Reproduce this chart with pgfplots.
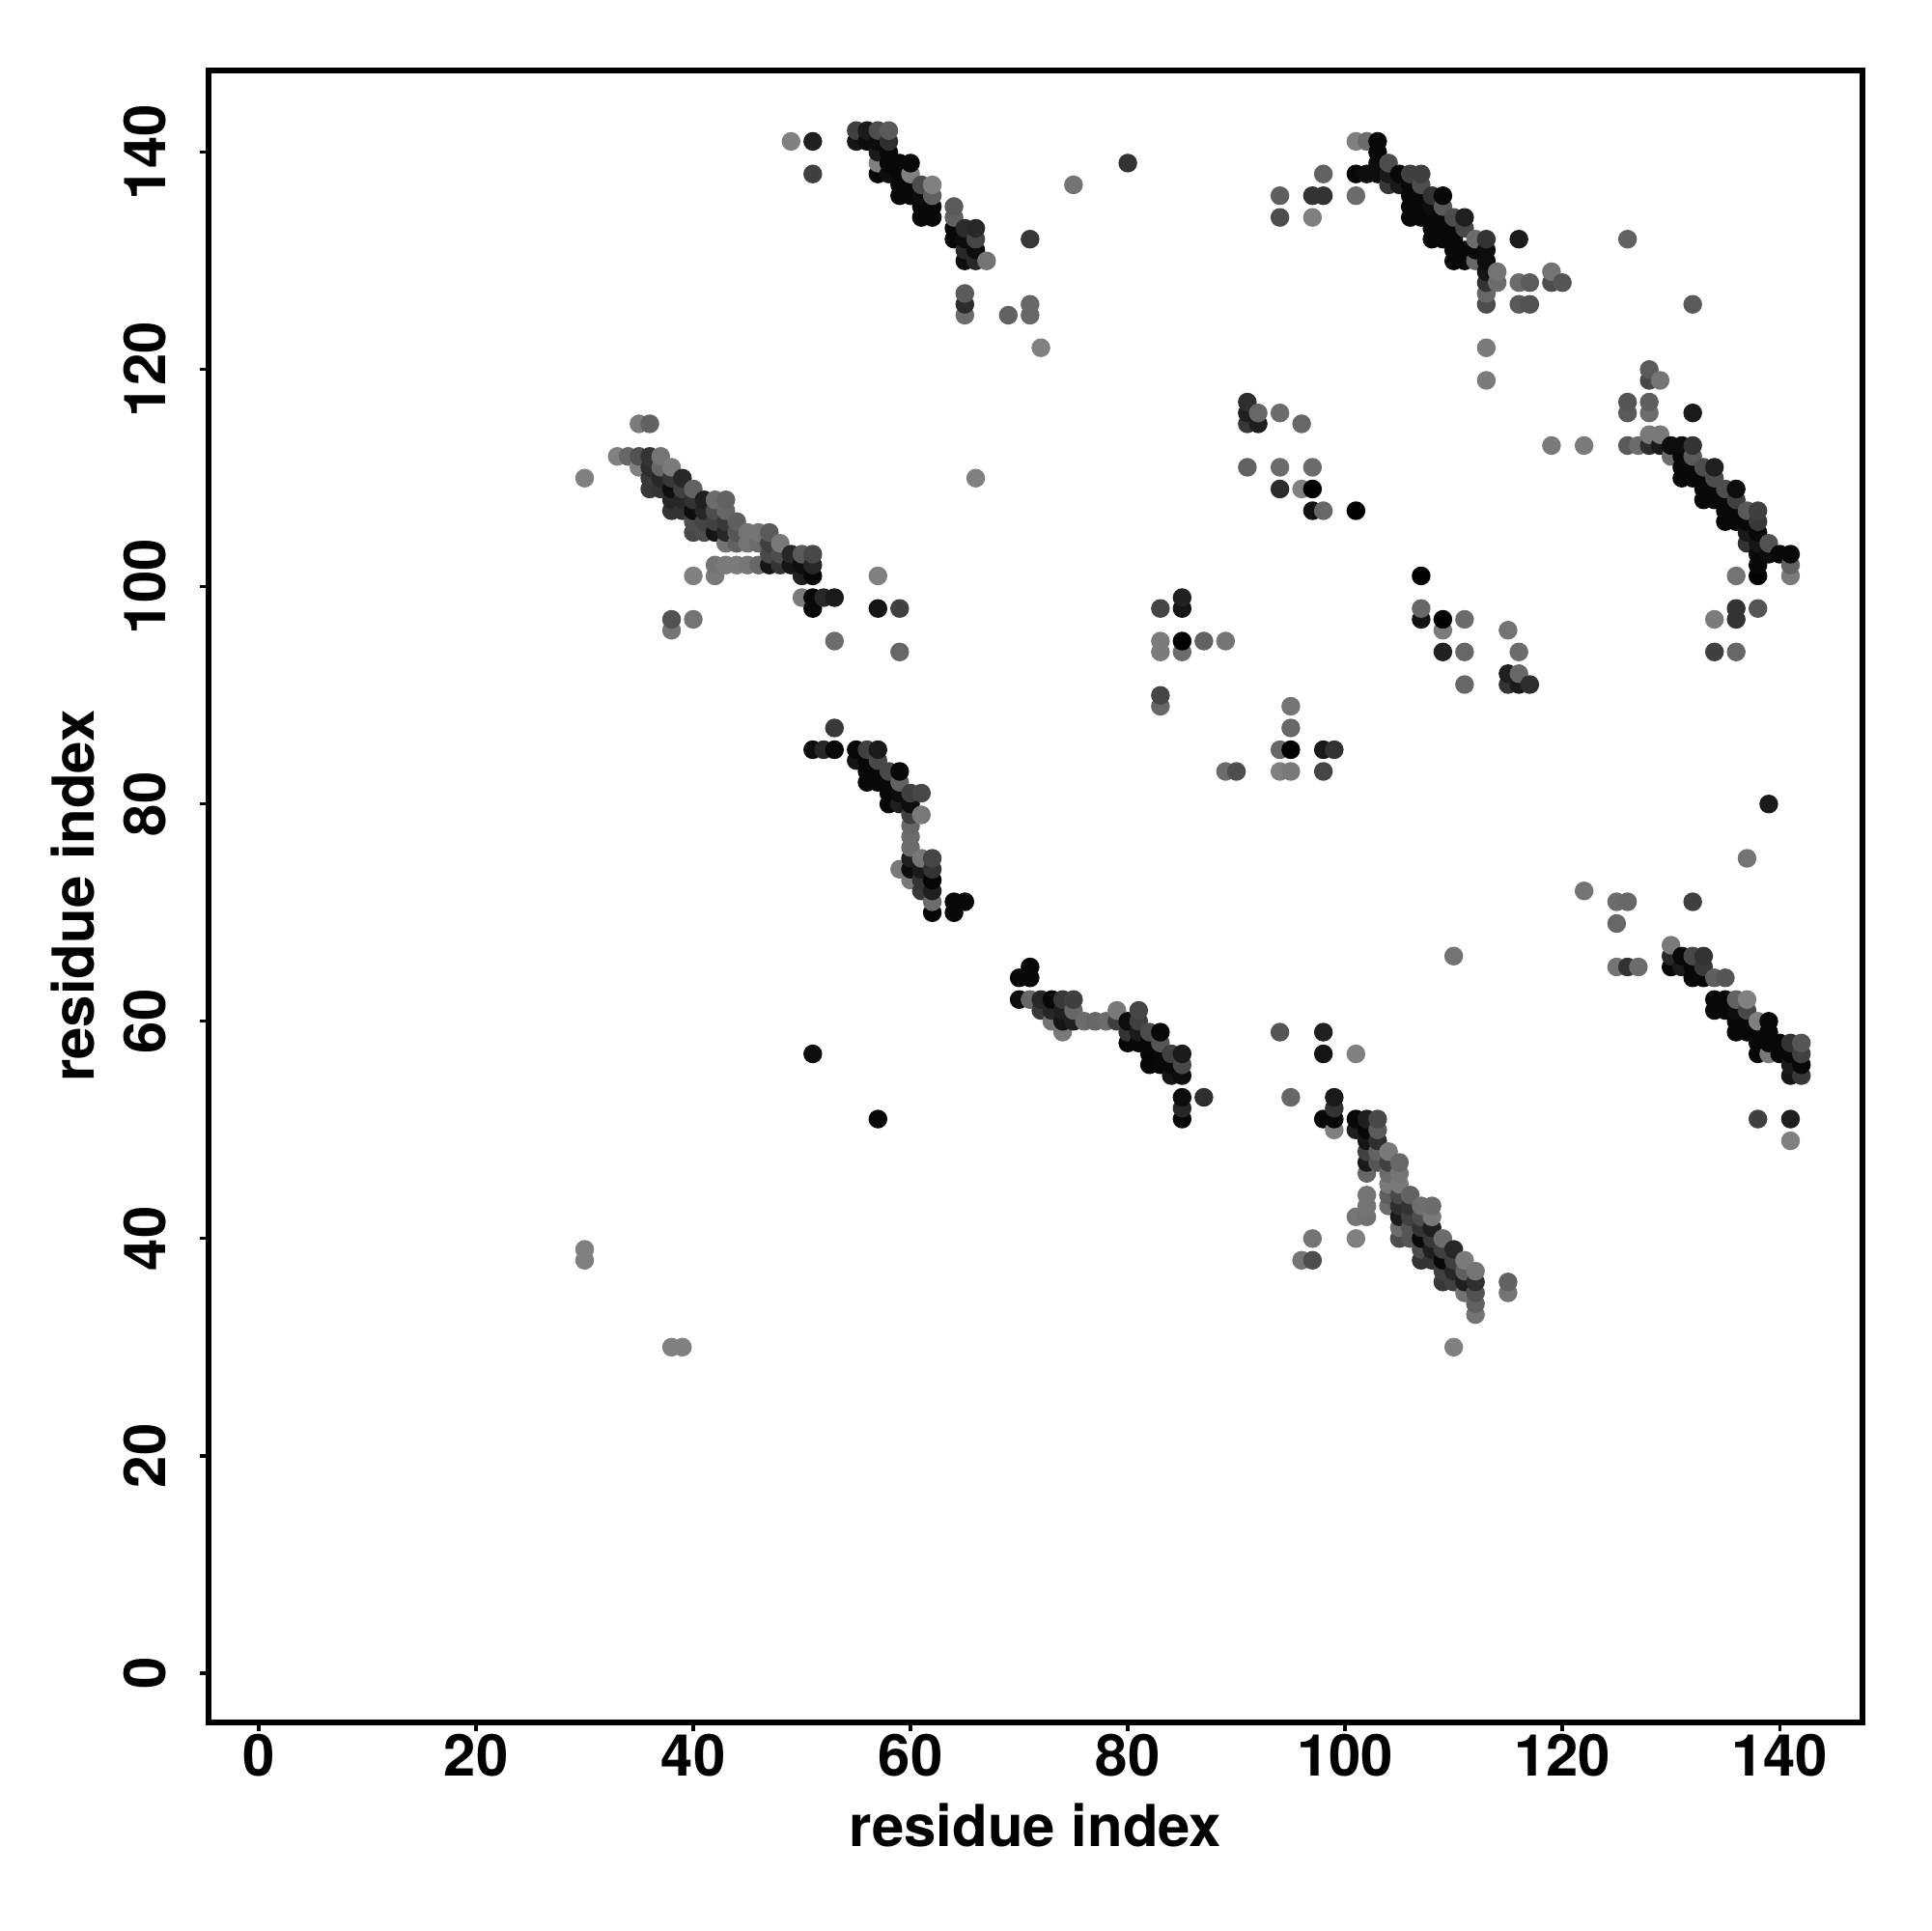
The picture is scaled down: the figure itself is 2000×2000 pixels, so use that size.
\documentclass[border=0pt]{standalone}
\usepackage{fontspec}
\usepackage{pgfplots}
\pgfplotsset{compat=1.18}
\setmainfont{TeX Gyre Heros}
\newcommand{\lab}{\fontsize{15.15}{17}\selectfont\bfseries}
\begin{document}
\begin{tikzpicture}[x=0.252bp,y=0.252bp]
\path[use as bounding box] (-216,-216.3) rectangle (1784,1783.7);
\begin{axis}[
  at={(0pt,0pt)},anchor=south west,
  scale only axis,width=431.6bp,height=431.1bp,
  xmin=-4.62,xmax=147.61,ymin=-4.52,ymax=147.54,
  xtick={0,20,...,140},ytick={0,20,...,140},
  tick align=outside,tick pos=left,
  major tick length=2.25bp,
  tick style={line width=0.85bp,black},
  axis line style={line width=1.5bp,black},
  /pgf/number format/assume math mode=true,
  ticklabel style={font=\lab},
  xticklabel style={anchor=center,yshift=-6.5bp},
  yticklabel style={rotate=90,anchor=center,yshift=14.4bp},
  xlabel={residue index},ylabel={residue index},
  label style={font=\lab},
  xlabel style={at={(axis description cs:0.5,0)},anchor=center,yshift=-26.8bp},
  ylabel style={at={(axis description cs:0,0.5)},anchor=center,yshift=35.4bp},
  colormap={g}{gray(0cm)=(0); gray(1cm)=(1)},
  point meta min=0,point meta max=1,
  scatter/use mapped color={draw opacity=0,fill=mapped color},
]
\addplot[scatter,only marks,mark=*,mark size=2.45bp,point meta=explicit] coordinates {
(30,38)[.5](30,39)[.5](30,110)[.5]
(33,112)[.5]
(34,112)[.4]
(35,111)[.5](35,112)[.32](35,115)[.48]
(36,109)[.22](36,110)[.22](36,111)[.18](36,112)[.2](36,115)[.38]
(37,109)[.2](37,110)[.15](37,111)[.4](37,112)[.45]
(38,30)[.5](38,96)[.45](38,97)[.32](38,107)[.2](38,108)[.15](38,109)[.06](38,110)[.22](38,111)[.48]
(39,30)[.5](39,107)[.2](39,108)[.15](39,109)[.25](39,110)[.15]
(40,97)[.45](40,101)[.5](40,105)[.28](40,106)[.3](40,107)[.05](40,108)[.2](40,109)[.38]
(41,105)[.3](41,106)[.27](41,107)[.15](41,108)[.12]
(42,101)[.47](42,102)[.45](42,105)[.08](42,106)[.25](42,107)[.3](42,108)[.42]
(43,102)[.48](43,104)[.45](43,105)[.15](43,106)[.22](43,107)[.4](43,108)[.38]
(44,102)[.48](44,104)[.38](44,105)[.33](44,106)[.37]
(45,102)[.46](45,104)[.45](45,105)[.45]
(46,102)[.4](46,104)[.42](46,105)[.45]
(47,102)[.08](47,103)[.28](47,104)[.25](47,105)[.35]
(48,102)[.2](48,103)[.3](48,104)[.47]
(49,102)[.08](49,103)[.15](49,141)[.5]
(50,99)[.48](50,101)[.12](50,102)[.05](50,103)[.35]
(51,57)[.05](51,85)[.05](51,98)[.03](51,99)[.03](51,101)[.03](51,102)[.15](51,103)[.28](51,138)[.25](51,141)[.12]
(52,85)[.15](52,99)[.15]
(53,85)[.03](53,87)[.22](53,95)[.42](53,99)[.1]
(55,84)[.08](55,85)[.03](55,141)[.08](55,142)[.25]
(56,82)[.03](56,83)[.03](56,84)[.03](56,85)[.25](56,141)[.05](56,142)[.1]
(57,51)[.03](57,82)[.03](57,83)[.03](57,84)[.28](57,85)[.1](57,98)[.08](57,101)[.5](57,138)[.03](57,139)[.5](57,140)[.1](57,141)[.05](57,142)[.3]
(58,80)[.03](58,81)[.03](58,82)[.03](58,83)[.28](58,138)[.05](58,139)[.03](58,140)[.03](58,141)[.18](58,142)[.35]
(59,74)[.47](59,80)[.12](59,81)[.05](59,82)[.38](59,83)[.03](59,94)[.4](59,98)[.25](59,136)[.03](59,137)[.03](59,138)[.03](59,139)[.03]
(60,73)[.47](60,74)[.05](60,75)[.12](60,76)[.42](60,77)[.42](60,78)[.4](60,79)[.25](60,80)[.05](60,81)[.25](60,136)[.03](60,137)[.03](60,138)[.5](60,139)[.03]
(61,72)[.22](61,73)[.2](61,74)[.1](61,75)[.46](61,79)[.47](61,81)[.28](61,134)[.03](61,135)[.03](61,136)[.05](61,137)[.3]
(62,70)[.02](62,71)[.42](62,72)[.12](62,73)[.02](62,74)[.2](62,75)[.27](62,134)[.03](62,135)[.03](62,136)[.37](62,137)[.5]
(64,70)[.03](64,71)[.03](64,132)[.03](64,133)[.03](64,134)[.38](64,135)[.35]
(65,71)[.03](65,125)[.42](65,126)[.17](65,127)[.35](65,130)[.05](65,131)[.15](65,132)[.05](65,133)[.17]
(66,110)[.5](66,130)[.15](66,131)[.05](66,132)[.27](66,133)[.15]
(67,130)[.45]
(69,125)[.38]
(70,62)[.05](70,64)[.03]
(71,62)[.4](71,64)[.03](71,65)[.03](71,125)[.4](71,126)[.4](71,132)[.22]
(72,61)[.22](72,62)[.15](72,122)[.5]
(73,60)[.45](73,61)[.15](73,62)[.03]
(74,59)[.47](74,60)[.08](74,61)[.12](74,62)[.22]
(75,60)[.12](75,61)[.4](75,62)[.25](75,137)[.45]
(76,60)[.42]
(77,60)[.4]
(78,60)[.42]
(79,60)[.25](79,61)[.47]
(80,58)[.03](80,59)[.2](80,60)[.05](80,139)[.2]
(81,58)[.03](81,59)[.1](81,60)[.25](81,61)[.27]
(82,56)[.02](82,57)[.02](82,58)[.03](82,59)[.3]
(83,56)[.03](83,57)[.03](83,58)[.33](83,59)[.03](83,89)[.4](83,90)[.27](83,94)[.48](83,95)[.48](83,98)[.27]
(84,55)[.08](84,56)[.03](84,57)[.25]
(85,51)[.03](85,52)[.15](85,53)[.05](85,55)[.05](85,56)[.28](85,57)[.1](85,94)[.42](85,95)[0](85,98)[.08](85,99)[.13]
(87,53)[.18](87,95)[.38]
(89,83)[.42](89,95)[.45]
(90,83)[.3]
(91,111)[.38](91,115)[.22](91,116)[.12](91,117)[.18]
(92,115)[.12](92,116)[.4]
(94,59)[.33](94,83)[.5](94,85)[.4](94,109)[.17](94,111)[.42](94,116)[.42](94,134)[.3](94,136)[.37]
(95,53)[.4](95,83)[.47](95,85)[0](95,87)[.4](95,89)[.45]
(96,38)[.45](96,109)[.5](96,115)[.4]
(97,38)[.3](97,40)[.45](97,107)[.07](97,109)[0](97,111)[.42](97,134)[.5](97,136)[.2]
(98,51)[.03](98,57)[.08](98,59)[.12](98,83)[.27](98,85)[.1](98,107)[.4](98,136)[.2](98,138)[.38]
(99,50)[.5](99,51)[.03](99,52)[.2](99,53)[.1](99,85)[.2]
(101,40)[.5](101,42)[.46](101,50)[.12](101,51)[.03](101,57)[.5](101,107)[0](101,136)[.42](101,138)[.03](101,141)[.5]
(102,42)[.44](102,43)[.45](102,44)[.45](102,46)[.4](102,47)[.1](102,48)[.25](102,49)[.08](102,50)[.03](102,51)[.12](102,138)[.05](102,141)[.42]
(103,47)[.33](103,48)[.38](103,49)[.18](103,50)[.35](103,51)[.28](103,138)[.05](103,139)[.05](103,140)[.03](103,141)[.03]
(104,43)[.42](104,44)[.37](104,45)[.47](104,46)[.42](104,47)[.25](104,48)[.47](104,137)[.22](104,138)[.1](104,139)[.3]
(105,40)[.3](105,41)[.42](105,42)[.1](105,43)[.18](105,44)[.28](105,45)[.47](105,46)[.45](105,47)[.4](105,137)[.1](105,138)[.03]
(106,40)[.33](106,41)[.33](106,42)[.25](106,43)[.2](106,44)[.38](106,134)[.03](106,135)[.03](106,136)[.03](106,137)[.03](106,138)[.25]
(107,38)[.2](107,39)[.3](107,40)[.03](107,41)[.2](107,42)[.3](107,43)[.43](107,97)[.07](107,98)[.4](107,101)[0](107,134)[.03](107,135)[.03](107,136)[.03](107,137)[.3](107,138)[.25]
(108,38)[.2](108,39)[.12](108,40)[.22](108,41)[.12](108,42)[.47](108,43)[.42](108,132)[.03](108,133)[.03](108,134)[.03](108,135)[.05](108,136)[.2]
(109,36)[.22](109,37)[.25](109,38)[.03](109,39)[.25](109,40)[.42](109,94)[.13](109,96)[.48](109,97)[0](109,132)[.03](109,133)[.03](109,134)[.03](109,135)[.35](109,136)[.03]
(110,30)[.5](110,36)[.25](110,37)[.15](110,38)[.25](110,39)[.15](110,66)[.45](110,130)[.03](110,131)[.03](110,132)[.03](110,133)[.03](110,134)[.3]
(111,35)[.45](111,36)[.12](111,37)[.37](111,38)[.48](111,91)[.4](111,94)[.4](111,97)[.42](111,130)[.03](111,131)[.03](111,133)[.28](111,134)[.12]
(112,33)[.45](112,34)[.38](112,35)[.32](112,36)[.18](112,37)[.45](112,130)[.4](112,131)[.03](112,132)[.42]
(113,119)[.48](113,122)[.48](113,126)[.3](113,127)[.4](113,128)[.2](113,129)[.08](113,130)[.05](113,131)[.05](113,132)[.2]
(114,128)[.42](114,129)[.45]
(115,35)[.45](115,36)[.38](115,91)[.2](115,92)[.12](115,96)[.45]
(116,91)[.1](116,92)[.4](116,94)[.42](116,126)[.35](116,128)[.42](116,132)[.1]
(117,91)[.18](117,126)[.32](117,128)[.36]
(119,113)[.48](119,128)[.3](119,129)[.45]
(120,128)[.33]
(122,72)[.45](122,113)[.48]
(125,65)[.45](125,69)[.4](125,71)[.42]
(126,65)[.2](126,71)[.4](126,113)[.35](126,116)[.35](126,117)[.33](126,132)[.38]
(127,65)[.42](127,113)[.42]
(128,113)[.18](128,114)[.47](128,116)[.42](128,117)[.37](128,119)[.28](128,120)[.35]
(129,113)[.1](129,114)[.47](129,119)[.45]
(130,65)[.03](130,66)[.15](130,67)[.47](130,112)[.42](130,113)[.05]
(131,65)[.1](131,66)[.03](131,110)[.03](131,111)[.03](131,112)[.03](131,113)[.05]
(132,64)[.03](132,65)[.03](132,66)[.28](132,71)[.25](132,110)[.03](132,111)[.03](132,112)[.35](132,113)[.2](132,116)[.1](132,126)[.35]
(133,64)[.03](133,65)[.22](133,66)[.2](133,108)[.03](133,109)[.03](133,110)[.03](133,111)[.3]
(134,61)[.03](134,62)[.03](134,64)[.37](134,94)[.25](134,97)[.48](134,108)[.03](134,109)[.03](134,110)[.3](134,111)[.12]
(135,61)[.03](135,62)[.03](135,64)[.33](135,106)[.03](135,107)[.03](135,108)[.03](135,109)[.3]
(136,59)[.03](136,60)[.03](136,61)[.05](136,62)[.38](136,94)[.4](136,97)[.2](136,98)[.2](136,101)[.45](136,106)[.03](136,107)[.03](136,108)[.25](136,109)[.05]
(137,59)[.03](137,60)[.03](137,61)[.28](137,62)[.5](137,75)[.45](137,104)[.2](137,105)[.1](137,106)[.03](137,107)[.35]
(138,51)[.25](138,57)[.03](138,58)[.03](138,59)[.03](138,60)[.5](138,98)[.33](138,101)[.01](138,102)[.03](138,103)[.03](138,104)[.08](138,105)[.03](138,106)[.22](138,107)[.25]
(139,57)[.47](139,58)[.03](139,59)[.03](139,60)[.03](139,80)[.1](139,103)[.05](139,104)[.32]
(140,57)[.03](140,58)[.03](140,103)[.03]
(141,49)[.5](141,51)[.12](141,55)[.08](141,56)[.1](141,57)[.03](141,58)[.2](141,101)[.48](141,102)[.38](141,103)[.03]
(142,55)[.22](142,56)[.03](142,57)[.25](142,58)[.33]
};
\end{axis}
\end{tikzpicture}
\end{document}
